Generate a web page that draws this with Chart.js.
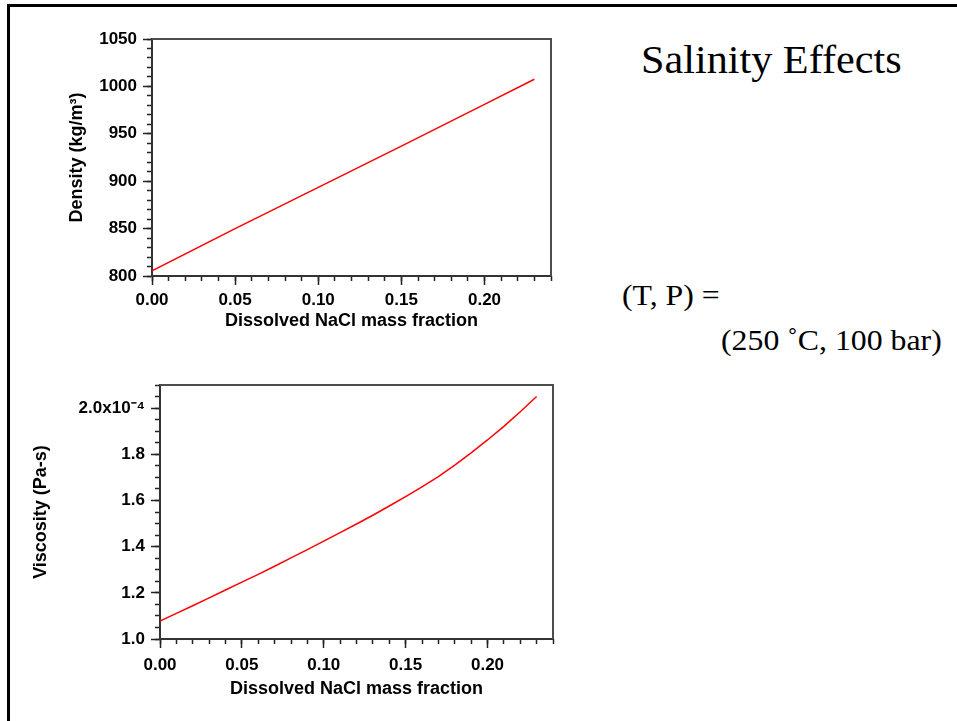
<!DOCTYPE html>
<html>
<head>
<meta charset="utf-8">
<script src="https://cdn.jsdelivr.net/npm/chart.js@4.4.0/dist/chart.umd.min.js"></script>
<style>
  html, body { margin: 0; padding: 0; background: #fff; }
  body { width: 957px; height: 721px; position: relative; overflow: hidden; }
  .frame { position: absolute; left: 7px; top: 4px; width: 2000px; height: 2000px;
           border-top: 3px solid #000; border-left: 3px solid #000; }
  canvas { position: absolute; left: 0; }
  #dens { top: 0; }
  #visc { top: 360px; }
  .txt { position: absolute; font-family: "Liberation Serif", "Times New Roman", serif; color: #000;
         white-space: nowrap; line-height: 1; transform-origin: 0 0; }
</style>
</head>
<body>
<div class="frame"></div>
<canvas id="dens" width="600" height="360"></canvas>
<canvas id="visc" width="600" height="361"></canvas>
<div class="txt" style="left:641px; top:40px; font-size:40px; transform:scaleX(1.055);">Salinity Effects</div>
<div class="txt" style="left:622px; top:280px; font-size:30px; transform:scaleX(1.06);">(T, P) =</div>
<div class="txt" style="left:721px; top:325px; font-size:30px; transform:scaleX(1.06);">(250 ˚C, 100 bar)</div>
<script>
// NaCl mass fraction (x) for each curve
const densityX = [0, 0.05, 0.10, 0.15, 0.20, 0.23];
const densityY = [805.5, 850, 893.5, 937, 981, 1007.5]; // kg/m3

const viscX = [0, 0.01, 0.02, 0.03, 0.04, 0.05, 0.06, 0.07, 0.08, 0.09, 0.10, 0.11,
               0.12, 0.13, 0.14, 0.15, 0.16, 0.17, 0.18, 0.19, 0.20, 0.21, 0.22, 0.23];
const viscY = [1.078, 1.111, 1.144, 1.178, 1.212, 1.246, 1.28, 1.315, 1.351, 1.387, 1.424, 1.461,
               1.498, 1.536, 1.576, 1.617, 1.659, 1.703, 1.753, 1.806, 1.862, 1.921, 1.984, 2.05]; // x10^-4 Pa-s

const xTickLabels = ['0.00', '0.05', '0.10', '0.15', '0.20'];

const fontFam = '"Liberation Sans", Arial, sans-serif';
const tickFont = { family: fontFam, size: 17, weight: 'bold' };
const titleFont = { family: fontFam, size: 18, weight: 'bold' };
const yTitleFont = { family: fontFam, size: 18, weight: 'bold' };

// top and right edges of the plot box
const framePlugin = {
  id: 'frame',
  afterDraw(chart) {
    const { ctx, chartArea: a } = chart;
    ctx.save();
    ctx.strokeStyle = '#4d4d4d';
    ctx.lineWidth = 2;
    ctx.beginPath();
    ctx.moveTo(a.left, a.top);
    ctx.lineTo(a.right, a.top);
    ctx.lineTo(a.right, a.bottom);
    ctx.stroke();
    ctx.restore();
  }
};

function makeChart(id, o) {
  const pts = o.xs.map((x, i) => ({ x: x, y: o.ys[i] }));
  return new Chart(document.getElementById(id), {
    type: 'scatter',
    data: {
      datasets: [{
        data: pts, showLine: true, borderColor: '#ff0000', borderWidth: 1.5,
        pointRadius: 0, tension: 0
      }]
    },
    plugins: [framePlugin],
    options: {
      responsive: false,
      animation: false,
      layout: { padding: o.padding },
      plugins: { legend: { display: false }, tooltip: { enabled: false } },
      scales: {
        x: {
          type: 'linear', position: 'bottom', min: 0, max: 0.24,
          afterFit: s => { s.height = o.xh; },
          border: { display: true, color: '#333', width: 2 },
          grid: { drawOnChartArea: false, tickLength: 9, tickColor: '#222', tickWidth: 1.5 },
          ticks: {
            stepSize: 0.05, includeBounds: false, padding: o.xpad, color: '#000', font: tickFont,
            callback: (v, i) => xTickLabels[i]
          },
          title: { display: true, text: 'Dissolved NaCl mass fraction', color: '#000', font: titleFont, padding: 0 }
        },
        xMinor: {
          type: 'linear', axis: 'x', position: { y: o.ymin }, min: 0, max: 0.24,
          border: { display: false },
          grid: { drawOnChartArea: false, tickLength: 5, tickColor: '#222', tickWidth: 1.5 },
          ticks: { stepSize: 0.01, display: false }
        },
        y: {
          type: 'linear', position: 'left', min: o.ymin, max: o.ymax,
          afterFit: s => { s.width = o.yw; },
          border: { display: true, color: '#333', width: 2 },
          grid: { drawOnChartArea: false, tickLength: 9, tickColor: '#222', tickWidth: 1.5 },
          ticks: {
            stepSize: o.ystep, includeBounds: false, padding: 6, color: '#000', font: tickFont,
            callback: o.yLabel
          },
          title: { display: true, text: o.yTitle, color: '#000', font: yTitleFont, padding: 0 }
        },
        yMinor: {
          type: 'linear', axis: 'y', position: { x: 0 }, min: o.ymin, max: o.ymax,
          border: { display: false },
          grid: { drawOnChartArea: false, tickLength: 5, tickColor: '#222', tickWidth: 1.5 },
          ticks: { stepSize: o.yminor, display: false }
        }
      }
    }
  });
}

makeChart('dens', {
  xs: densityX, ys: densityY,
  ymin: 800, ymax: 1050, ystep: 50, yminor: 10,
  yLabel: v => v.toFixed(0),
  yTitle: 'Density (kg/m³)',
  padding: { left: 66, top: 39, right: 49, bottom: 28 },
  yw: 86, xh: 56, xpad: 5
});

makeChart('visc', {
  xs: viscX, ys: viscY,
  ymin: 1.0, ymax: 2.1, ystep: 0.2, yminor: 0.05,
  yLabel: v => (Math.abs(v - 2) < 1e-9 ? '2.0x10⁻⁴' : v.toFixed(1)),
  yTitle: 'Viscosity (Pa-s)',
  padding: { left: 30, top: 25, right: 47, bottom: 21 },
  yw: 130, xh: 61, xpad: 7
});
</script>
</body>
</html>
